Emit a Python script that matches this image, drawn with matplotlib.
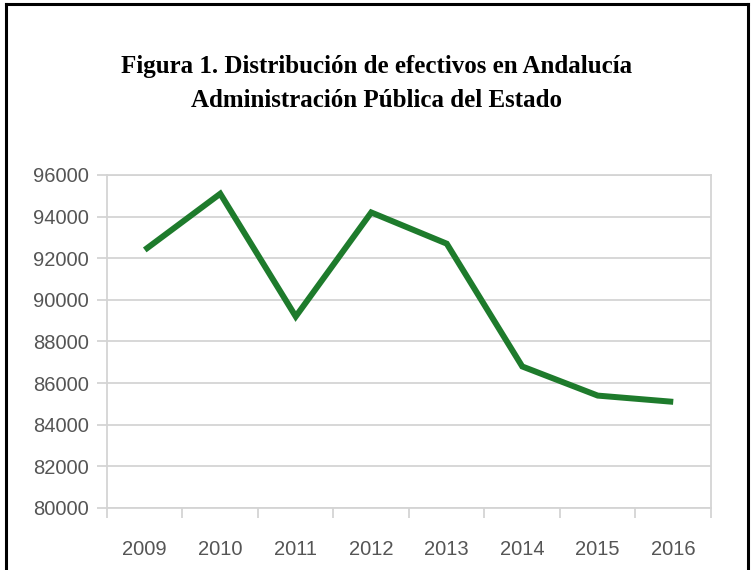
import matplotlib.pyplot as plt
from matplotlib.lines import Line2D
from matplotlib.ticker import MultipleLocator, FixedLocator

# Data
years = ["2009", "2010", "2011", "2012", "2013", "2014", "2015", "2016"]
efectivos = [92400, 95100, 89200, 94200, 92700, 86800, 85400, 85100]
title_lines = ["Figura 1. Distribución de efectivos en Andalucía",
               "Administración Pública del Estado"]

GRID = "#d4d4d4"
TEXT = "#555555"
GREEN = "#1e7b2c"

fig = plt.figure(figsize=(7.53, 5.70), dpi=100)
ax = fig.add_axes([0.1421, 0.1088, 0.8021, 0.5842])

x = list(range(len(years)))
ax.plot(x, efectivos, color=GREEN, linewidth=4.3, solid_capstyle="butt",
        solid_joinstyle="miter")

ax.set_xlim(-0.5, len(years) - 0.5)
ax.set_ylim(80000, 96000)
ax.yaxis.set_major_locator(MultipleLocator(2000))
ax.grid(axis="y", color=GRID, linewidth=1.3)
ax.set_axisbelow(True)

ax.set_xticks(x)
ax.set_xticklabels(years)
ax.xaxis.set_minor_locator(FixedLocator([i - 0.5 for i in range(len(years) + 1)]))
ax.tick_params(axis="x", which="major", length=0, pad=23, labelsize=14.5,
               labelcolor=TEXT)
ax.tick_params(axis="x", which="minor", length=7, width=1.3, color=GRID)
ax.tick_params(axis="y", length=7, width=1.3, color=GRID, labelsize=14.5,
               labelcolor=TEXT, pad=6)

for name, sp in ax.spines.items():
    sp.set_color(GRID)
    sp.set_linewidth(1.3)

for lbl in ax.get_xticklabels() + ax.get_yticklabels():
    lbl.set_family("Liberation Sans")

fig.text(0.5, 0.883, title_lines[0], ha="center", va="center",
         fontsize=18, fontweight="bold", family="Liberation Serif")
fig.text(0.5, 0.823, title_lines[1], ha="center", va="center",
         fontsize=18, fontweight="bold", family="Liberation Serif")

# black frame around the figure (left, top, right)
frame = dict(color="black", linewidth=2.2, transform=fig.transFigure)
fig.add_artist(Line2D([0.0075, 0.0075], [0.0, 0.9925], **frame))
fig.add_artist(Line2D([0.0075, 0.9935], [0.9925, 0.9925], **frame))
fig.add_artist(Line2D([0.9935, 0.9935], [0.0, 0.9925], **frame))

fig.savefig("out.png", dpi=100)
